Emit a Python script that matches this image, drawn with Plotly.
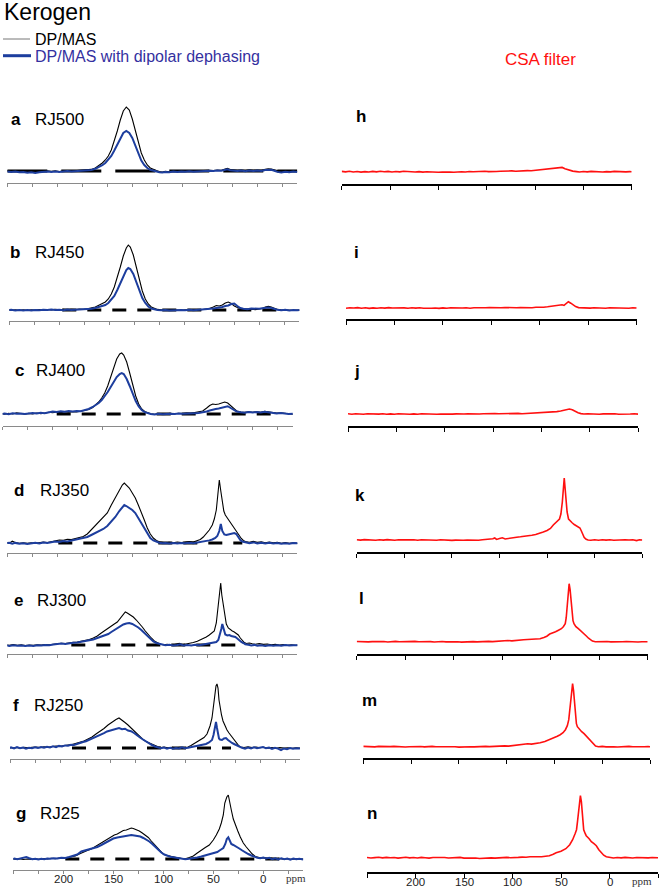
import plotly.graph_objects as go

# ---------------- data (ppm, intensity above baseline) ----------------
A_DP = [(250,0.4),(246,-0.2),(242,0.3),(238,-0.5),(234,-0.2),(230,-1.2),(226,-0.6),(222,-1.4),(218,-0.8),(214,-0.3),(210,0.2),(206,-0.4),(202,0.1),(198,-0.6),(194,0.0),(190,0.5),(186,-0.1),(182,0.3),(178,0.6),(174,0.4),(170,1.0),(166,1.6),(162,3.0),(158,5.5),(155,8),(152,11),(149,15),(146,21),(143,30),(140,40),(137,51),(134,60),(131,64),(128,61),(125,52),(122,40),(119,28),(116,18),(113,11),(110,6),(107,3),(104,1.5),(101,0.4),(98,-0.6),(95,-1.0),(92,-0.4),(88,-0.8),(84,0.0),(80,-0.5),(76,0.2),(72,-0.3),(68,0.3),(64,-0.2),(60,0.1),(56,0.5),(52,0.2),(48,0.8),(44,0.4),(40,1.0),(36,0.7),(33,1.5),(30,2.6),(27,1.4),(24,1.0),(20,0.6),(16,1.0),(12,0.5),(8,1.2),(4,0.6),(0,1.0),(-4,0.7),(-8,1.6),(-11,2.3),(-14,2.0),(-17,1.2),(-20,0.0),(-24,-0.6),(-28,0.2),(-32,-0.3),(-36,0.1),(-40,-0.2)]
A_DD = [(250,-0.6),(246,-1.0),(242,-0.5),(238,-1.3),(234,-0.9),(230,-1.8),(226,-1.2),(222,-2.0),(218,-1.3),(214,-0.8),(210,-0.4),(206,-0.9),(202,-0.5),(198,-1.1),(194,-0.5),(190,-0.1),(186,-0.6),(182,-0.2),(178,0.1),(174,0.0),(170,0.6),(166,1.1),(162,2.2),(158,4.0),(155,5.8),(152,8),(149,11),(146,15),(143,20.5),(140,26.5),(137,33),(134,38),(131,40),(128,38),(125,33),(122,25),(119,17),(116,10.5),(113,6),(110,3),(107,1.2),(104,0.2),(101,-0.6),(98,-1.2),(95,-1.6),(92,-1.0),(88,-1.3),(84,-0.6),(80,-1.0),(76,-0.4),(72,-0.8),(68,-0.2),(64,-0.7),(60,-0.4),(56,0.0),(52,-0.3),(48,0.3),(44,-0.1),(40,0.5),(36,0.2),(33,0.9),(30,1.6),(27,0.8),(24,0.4),(20,0.0),(16,0.4),(12,-0.2),(8,0.5),(4,-0.1),(0,0.4),(-4,0.1),(-8,0.9),(-11,1.4),(-14,1.2),(-17,0.3),(-20,-0.9),(-24,-1.6),(-28,-0.7),(-32,-1.2),(-36,-0.6),(-40,-0.9)]

B_DP = [(252,0.3),(248,-0.2),(244,0.2),(240,-0.4),(236,0.1),(232,-0.3),(228,0.3),(224,-0.1),(220,0.4),(216,0.0),(212,0.5),(208,0.1),(204,0.6),(200,0.2),(196,0.7),(192,0.3),(188,0.8),(184,0.4),(180,0.9),(176,0.6),(172,1.2),(168,1.8),(164,3.0),(160,5.0),(157,6.5),(154,8.0),(151,11),(148,16),(145,23),(142,32),(139,43),(136,54),(133,62),(131,65),(129,63),(126,55),(123,43),(120,30),(117,19),(114,11),(111,6),(108,3),(105,1.4),(102,0.6),(98,0.2),(94,-0.2),(90,0.3),(86,-0.1),(82,0.2),(78,-0.3),(74,0.1),(70,0.4),(66,0.0),(62,0.3),(58,0.2),(54,0.6),(50,1.5),(46,3.0),(43,4.5),(40,4.0),(37,5.0),(34,7.0),(31,8.0),(28,6.5),(25,4.0),(22,2.5),(19,1.5),(16,1.0),(12,0.6),(8,0.9),(4,0.4),(0,0.8),(-3,1.5),(-6,3.0),(-9,3.8),(-12,3.0),(-15,1.5),(-18,0.6),(-22,0.2),(-26,-0.2),(-30,0.1),(-34,-0.3),(-38,0.0),(-42,-0.2)]
B_DD = [(252,-0.2),(248,0.3),(244,-0.4),(240,0.0),(236,-0.6),(232,-0.1),(228,-0.5),(224,0.1),(220,-0.3),(216,0.3),(212,-0.1),(208,0.4),(204,0.0),(200,0.3),(196,-0.2),(192,0.5),(188,0.0),(184,0.2),(180,0.5),(176,0.2),(172,0.7),(168,1.2),(164,2.0),(160,3.0),(157,4.0),(154,5.0),(151,7),(148,10),(145,14),(142,20),(139,27),(136,34),(133,40),(131,42),(129,41),(126,36),(123,28),(120,19),(117,12),(114,7),(111,3.5),(108,1.5),(105,0.5),(102,0.0),(98,-0.3),(94,0.1),(90,-0.4),(86,0.0),(82,-0.3),(78,0.1),(74,-0.2),(70,0.2),(66,-0.2),(62,0.1),(58,0.0),(54,0.3),(50,0.8),(46,1.5),(43,2.0),(40,2.2),(37,3.0),(34,4.0),(31,4.5),(28,6.0),(25,6.5),(22,4.0),(19,2.0),(16,1.2),(12,0.8),(8,1.5),(4,1.0),(0,1.2),(-3,1.8),(-6,2.3),(-9,2.6),(-12,2.0),(-15,1.0),(-18,0.3),(-22,-0.3),(-26,0.2),(-30,-0.4),(-34,0.1),(-38,-0.3),(-42,0.0)]

C_DP = [(252,0.5),(248,-0.3),(244,0.8),(240,0.0),(236,1.2),(232,0.3),(228,-0.2),(224,0.6),(220,0.1),(216,1.0),(212,0.4),(208,0.9),(204,1.8),(200,1.2),(196,2.0),(192,1.4),(188,2.2),(184,1.8),(180,2.4),(176,2.0),(172,2.6),(168,3.2),(164,4.5),(160,6.5),(157,9),(154,12),(151,16),(148,21),(145,28),(142,37),(139,47),(136,55),(133,60),(131,61),(129,59),(126,52),(123,41),(120,29),(117,18),(114,10),(111,5),(108,2.5),(105,1.0),(102,0.3),(98,-0.2),(94,0.4),(90,-0.1),(86,0.3),(82,0.6),(78,0.2),(74,0.8),(70,0.4),(66,0.9),(62,0.6),(58,1.2),(54,1.8),(50,3.0),(46,6.0),(43,8.5),(40,10),(37,9.5),(34,10),(31,11),(28,12),(25,11),(22,8),(19,5),(16,3),(12,2.0),(8,1.6),(4,2.2),(0,1.6),(-4,2.3),(-8,1.8),(-12,2.6),(-16,1.8),(-20,1.3),(-24,0.9),(-28,1.2),(-32,0.6),(-36,0.2),(-40,-0.2),(-42,0.0)]
C_DD = [(252,-0.3),(248,0.4),(244,-0.2),(240,0.8),(236,0.2),(232,0.6),(228,-0.1),(224,0.3),(220,0.9),(216,0.5),(212,1.2),(208,0.8),(204,1.5),(200,2.6),(196,2.0),(192,2.8),(188,2.2),(184,2.9),(180,2.4),(176,3.0),(172,2.7),(168,3.5),(164,5.0),(160,7.0),(157,9),(154,11),(151,14),(148,17.5),(145,22),(142,27),(139,32),(136,37),(133,40),(131,41),(129,40),(126,35),(123,28),(120,20),(117,13),(114,7.5),(111,4),(108,1.8),(105,0.6),(102,0.0),(98,-0.4),(94,0.2),(90,-0.3),(86,0.1),(82,0.3),(78,-0.1),(74,0.5),(70,0.2),(66,0.6),(62,0.3),(58,0.8),(54,1.0),(50,1.6),(46,2.5),(43,3.5),(40,4.5),(37,5.0),(34,5.5),(31,6.5),(28,7.5),(25,7.8),(22,6.0),(19,4.0),(16,2.5),(12,1.8),(8,1.3),(4,1.9),(0,1.4),(-4,2.0),(-8,1.5),(-12,2.2),(-16,1.6),(-20,1.0),(-24,0.6),(-28,0.9),(-32,0.3),(-36,-0.1),(-40,0.2),(-42,-0.1)]

D_DP = [(252,0.5),(248,-0.2),(245,1.8),(242,0.4),(238,-0.3),(234,0.2),(230,-0.4),(226,0.3),(222,-0.2),(218,0.5),(214,1.0),(210,0.4),(206,1.5),(202,2.5),(198,3.0),(194,2.6),(190,3.8),(186,3.4),(182,4.5),(178,5.2),(174,6.5),(170,9),(166,13),(162,17),(158,21),(154,25),(150,30),(146,38),(142,45),(138,53),(135,58),(133,60),(131,58),(128,55),(125,50),(122,45),(119,38),(116,31),(113,23),(110,15),(107,9),(104,5),(101,2.5),(98,1.2),(95,0.6),(92,0.3),(88,0.8),(84,0.2),(80,1.0),(76,0.4),(72,0.9),(68,1.5),(64,1.0),(60,2.0),(57,3.5),(54,6),(51,9),(48,13),(45,18),(43,24),(41,33),(39.5,48),(38,63),(36.5,52),(35,40),(33.5,32),(32,28),(30,25),(28,22),(26,19),(24,16),(22,13),(20,10),(18,7),(16,4.5),(14,2.5),(12,1.5),(8,0.8),(4,1.6),(0,0.6),(-4,1.2),(-8,0.3),(-12,1.0),(-16,0.2),(-20,0.8),(-24,-0.3),(-28,0.4),(-32,-0.4),(-36,0.2),(-40,-0.3),(-42,0.0)]
D_DD = [(252,-0.4),(248,0.3),(245,-0.6),(242,0.1),(238,-0.8),(234,-0.2),(230,-0.9),(226,-0.3),(222,0.2),(218,-0.4),(214,0.5),(210,-0.1),(206,0.8),(202,1.4),(198,1.0),(194,2.0),(190,1.5),(186,2.4),(182,2.8),(178,3.5),(174,4.5),(170,6),(166,8),(162,10),(158,12),(154,14),(150,17),(146,21),(142,26),(138,32),(135,36),(133,38),(131,37),(128,35),(125,33),(122,30),(119,25),(116,20),(113,14),(110,9),(107,5),(104,2.5),(101,1.0),(98,0.2),(95,-0.3),(92,0.1),(88,-0.4),(84,0.0),(80,-0.5),(76,0.1),(72,-0.3),(68,0.3),(64,-0.2),(60,0.4),(56,1.0),(52,1.6),(48,2.6),(45,3.5),(42,5),(40,7),(38,12),(36.5,19),(35,12),(33,8.5),(31,8),(29,8.5),(27,9),(25,9.5),(23,10),(21,9),(19,6),(17,3),(15,1.5),(12,0.5),(8,-0.2),(4,0.6),(0,-0.4),(-4,0.3),(-8,-0.5),(-12,0.2),(-16,-0.6),(-20,0.0),(-24,-0.8),(-28,-0.2),(-32,-0.7),(-36,-0.1),(-40,-0.6),(-42,-0.3)]

E_DP = [(252,0.2),(248,-0.3),(244,0.4),(240,-0.2),(236,0.1),(232,-0.5),(228,0.0),(224,-0.3),(220,0.3),(216,0.0),(212,0.5),(208,0.2),(204,0.8),(200,1.2),(196,1.8),(192,1.4),(188,2.2),(184,2.6),(180,3.0),(176,3.6),(172,4.5),(168,5.5),(164,7),(160,9),(156,12),(152,15),(149,17),(146,19),(143,21),(140,23),(137,27),(134,31),(132,33),(130,32),(127,30),(124,28),(121,25),(118,22),(115,18),(112,14),(109,10),(106,7),(103,4),(100,2.0),(97,0.8),(94,0.2),(90,0.6),(86,-0.2),(82,0.4),(78,1.6),(75,0.3),(72,0.8),(68,1.5),(64,2.5),(60,3.8),(57,5),(54,6.5),(51,8),(48,10),(45,12),(43,14),(41,22),(39.5,35),(38,52),(36.6,62),(35.5,50),(34,40),(32.5,28),(31,21),(29,17),(27,15),(25,14),(23,13),(21,11.5),(19,10),(17,7),(15,4.5),(13,2.5),(11,1.5),(8,2.0),(5,1.2),(2,0.8),(-2,1.4),(-6,0.6),(-10,1.0),(-14,0.3),(-18,0.7),(-22,0.0),(-26,0.4),(-30,-0.2),(-34,0.2),(-38,-0.3),(-42,0.1)]
E_DD = [(252,-0.3),(248,-0.9),(244,-0.2),(240,-0.8),(236,-0.4),(232,-1.1),(228,-0.5),(224,-0.9),(220,-0.2),(216,-0.6),(212,0.1),(208,-0.3),(204,0.4),(200,0.9),(196,1.4),(192,1.0),(188,1.8),(184,2.3),(180,2.6),(176,3.2),(172,3.8),(168,4.5),(164,5.5),(160,7),(156,8.5),(152,10),(149,11),(146,13),(143,15),(140,17),(137,19),(134,20.5),(131,21.5),(128,22),(125,21),(122,19.5),(119,17.5),(116,15),(113,12),(110,9),(107,6),(104,3.5),(101,2.0),(98,1.0),(95,0.2),(92,-0.3),(88,0.3),(84,-0.5),(80,0.1),(77,0.8),(74,-0.4),(70,0.0),(66,-0.6),(62,0.2),(58,-0.3),(54,0.4),(50,0.8),(46,1.5),(43,2.2),(41,3),(39,5),(37.5,10),(36,16),(35,21),(33.5,15),(32,10.5),(30,9.5),(28,10),(26,9),(24,8.5),(22,8),(20,6.5),(18,4.5),(16,3),(14,2),(12,0.8),(9,0.2),(6,-0.5),(3,0.1),(0,-0.7),(-4,-0.2),(-8,-0.9),(-12,-0.3),(-16,-0.8),(-20,-0.2),(-24,-0.7),(-28,-0.1),(-32,-0.6),(-36,-0.2),(-40,-0.8),(-42,-0.4)]

F_DP = [(252,0.6),(248,0.0),(244,0.5),(240,-0.2),(236,0.8),(232,0.2),(228,0.6),(224,1.0),(220,0.4),(216,1.2),(212,0.8),(208,1.5),(204,2.0),(200,1.6),(196,2.5),(192,3.0),(188,3.4),(184,4.5),(180,5.5),(176,7),(172,9),(168,11),(164,14),(160,16.5),(156,19.5),(152,23),(148,26),(144,28.5),(141,30),(138,28),(135,25.5),(132,23),(129,20),(126,17),(123,13.5),(120,11),(117,8.5),(114,6.5),(111,5),(108,3.5),(105,2.2),(102,1.2),(99,0.5),(96,0.9),(92,0.3),(88,0.7),(84,0.2),(80,0.6),(76,0.1),(72,0.9),(69,2.5),(66,4.5),(62,6.5),(59,8.5),(56,10.5),(53,14),(50,22),(48,30),(47,38),(45.5,52),(44,62),(43,64),(42,60),(41,48),(40,41),(38.5,33),(37,27),(35,22),(33,18),(31,15),(29,12.5),(27,9),(25,7),(23,4),(21,2),(19,1.0),(16,0.5),(12,1.2),(8,0.4),(4,0.9),(0,0.2),(-4,0.8),(-8,-0.3),(-12,0.5),(-16,-0.2),(-20,0.4),(-24,-0.1),(-28,0.3),(-32,-0.4),(-36,0.2),(-40,-0.2),(-42,0.0)]
F_DD = [(252,-0.8),(249,0.6),(246,-0.5),(243,0.9),(240,-0.2),(237,0.4),(234,-0.7),(231,0.3),(228,-0.3),(225,0.8),(222,0.0),(219,1.0),(216,0.2),(213,1.3),(210,0.5),(207,1.6),(204,0.9),(201,2.1),(198,1.5),(195,2.6),(192,2.2),(189,3.3),(186,3.0),(183,4.2),(180,4.8),(177,6.0),(174,6.8),(171,8.0),(168,9.2),(165,10.5),(162,12),(159,13.2),(156,14.8),(153,16.5),(150,17.2),(147,18.5),(144,19.0),(141,20),(138,18.8),(135,19.3),(132,17.5),(129,16.8),(126,15),(123,12.5),(120,10.5),(117,8.5),(114,6.5),(111,4.5),(108,3.0),(105,1.5),(102,0.5),(99,-0.3),(96,0.4),(93,-0.6),(90,0.2),(87,-0.8),(84,0.0),(81,-0.5),(78,0.6),(75,-0.3),(72,0.2),(69,0.8),(66,1.5),(63,2.0),(60,2.8),(57,3.2),(54,4.0),(51,5.5),(48,8),(46.5,13),(45,20),(44,26),(43,20),(42,13),(41,9.5),(40,8.5),(38,8),(36,9.5),(34,10),(32,8),(30,6),(28,5),(26,4),(24,3),(22,2.2),(20,1.0),(18,0.2),(15,-0.6),(12,0.5),(9,-0.4),(6,0.8),(3,-0.2),(0,0.6),(-3,1.0),(-6,-0.3),(-9,0.4),(-12,-1.0),(-15,0.2),(-18,-0.6),(-21,-2.2),(-24,-0.5),(-27,-1.2),(-30,0.0),(-33,-0.8),(-36,-0.2),(-40,-0.6)]

G_DP = [(252,0.4),(248,-0.3),(244,0.2),(240,-0.5),(236,0.0),(232,-0.4),(228,0.3),(224,-0.2),(220,0.5),(216,0.1),(212,0.7),(208,0.3),(204,1.0),(200,0.8),(196,1.5),(192,2.2),(188,3.0),(184,5.0),(180,7.0),(176,8.5),(172,10),(168,12.5),(164,15.5),(160,18),(156,20),(152,22.5),(149,24),(146,25),(143,27),(140,28.5),(137,29),(134,30),(132,31),(130,30.5),(127,29.5),(124,28),(121,26),(118,24),(115,21.5),(112,18),(109,14.5),(106,11),(103,7.5),(100,5),(97,3.8),(94,3),(90,2.2),(86,1.2),(82,0.6),(78,0.2),(74,1.5),(70,3),(66,6),(62,9),(58,11.5),(54,14),(50,19),(47,24),(44,30),(42,36),(40,44),(38.5,56),(36.5,62),(35,64),(33.5,58),(32,49),(30,40),(28,34),(25.5,28),(23,22),(20,16),(17,12),(14,8),(11,5),(8,2.5),(5,1.5),(2,1.0),(-1,1.4),(-4,0.5),(-8,0.9),(-12,0.2),(-16,0.6),(-20,-0.2),(-24,0.3),(-28,-0.4),(-32,0.1),(-36,-0.3),(-40,0.0)]
G_DD = [(252,-0.5),(249,0.4),(246,-0.2),(243,0.6),(240,1.2),(237,2.0),(234,0.8),(231,-0.3),(228,0.2),(225,-0.5),(222,0.3),(219,-0.2),(216,0.5),(213,0.2),(210,0.8),(206,0.4),(202,1.2),(198,1.0),(194,2.0),(190,3.0),(186,4.5),(182,7.5),(178,8.5),(174,9.5),(170,10.5),(166,12),(162,14),(158,16),(154,18.5),(150,20.5),(146,21.5),(143,22),(140,22.5),(137,23),(134,23.5),(132,24),(129,23.5),(126,23),(123,22.5),(120,21),(117,19.5),(114,17.5),(111,15),(108,12),(105,9),(102,6.5),(99,4.5),(96,3.0),(93,2.2),(90,1.8),(86,1.0),(82,0.4),(78,-0.2),(74,0.3),(70,0.6),(66,1.5),(62,2.5),(58,3.5),(54,4.5),(50,5.5),(46,7),(43,9),(40,11),(38,15),(36.5,20),(35,21.7),(33.5,19),(32,15),(30,14),(27,12.5),(24,10.5),(21,8.5),(18,6.5),(15,5),(12,3.5),(9,2),(6,1.2),(3,0.8),(0,1.5),(-3,0.6),(-6,1.2),(-9,-0.3),(-12,0.6),(-15,-0.5),(-18,0.8),(-21,-0.2),(-24,0.4),(-27,-0.6),(-30,0.5),(-33,-0.3),(-36,0.2),(-40,-0.4)]

H_CSA = [(250,0.3),(246,-0.2),(242,0.4),(238,-0.3),(234,0.2),(230,-0.4),(226,0.1),(222,-0.3),(218,0.3),(214,-0.2),(210,0.4),(206,-0.1),(202,0.3),(198,-0.3),(194,0.2),(190,-0.2),(186,0.4),(182,0.0),(178,0.3),(174,-0.3),(170,0.1),(166,-0.4),(162,-0.1),(158,-0.5),(154,-0.2),(150,-0.6),(146,-0.3),(142,-0.7),(138,-0.4),(134,-0.6),(130,-0.2),(126,0.0),(122,-0.3),(118,0.2),(114,-0.1),(110,0.3),(106,0.0),(102,0.4),(98,0.1),(94,0.5),(90,0.2),(86,0.4),(82,0.7),(78,0.4),(74,0.8),(70,0.5),(66,0.9),(62,0.7),(58,1.1),(54,1.0),(50,1.4),(46,1.8),(42,2.2),(38,2.5),(34,3.0),(31,3.5),(28,3.2),(25,4.0),(22,4.3),(19,3.0),(15,1.6),(11,0.6),(7,0.1),(4,-0.3),(0,0.2),(-4,-0.2),(-8,0.3),(-12,-0.1),(-16,0.2),(-20,-0.3),(-24,0.1),(-28,-0.2),(-32,0.3),(-36,0.0),(-40,0.2),(-44,-0.2),(-48,0.1),(-50,0.0)]
I_CSA = [(250,-0.2),(246,0.3),(242,0.0),(238,0.4),(234,-0.3),(230,0.2),(226,-0.4),(222,0.1),(218,-0.2),(214,0.3),(210,-0.1),(206,0.4),(202,0.0),(198,0.2),(194,-0.3),(190,0.1),(186,-0.2),(182,0.3),(178,-0.1),(174,0.2),(170,-0.3),(166,0.1),(162,-0.2),(158,0.0),(154,-0.4),(150,0.1),(146,-0.3),(142,0.2),(138,-0.1),(134,0.3),(130,0.0),(126,0.2),(122,-0.2),(118,0.3),(114,0.1),(110,0.4),(106,0.2),(102,0.5),(98,0.2),(94,0.6),(90,0.3),(86,0.5),(82,0.2),(78,0.6),(74,0.3),(70,0.5),(66,0.2),(62,0.6),(58,0.3),(54,0.7),(50,0.5),(46,0.8),(42,1.2),(38,1.6),(34,2.0),(30,2.6),(27,3.2),(25,2.6),(22.5,4.5),(20.5,6.3),(18,4.8),(15.5,2.8),(13,1.4),(10,0.4),(6,0.0),(2,0.3),(-2,-0.1),(-6,0.2),(-10,-0.2),(-14,0.1),(-18,-0.3),(-22,0.2),(-26,0.0),(-30,0.3),(-34,-0.2),(-38,0.1),(-42,-0.3),(-46,0.2),(-50,0.0)]
J_CSA = [(250,0.2),(246,-0.2),(242,0.3),(238,0.0),(234,-0.3),(230,0.2),(226,0.0),(222,0.3),(218,-0.1),(214,0.2),(210,-0.3),(206,0.1),(202,-0.2),(198,0.3),(194,0.0),(190,0.2),(186,-0.2),(182,0.1),(178,-0.3),(174,0.2),(170,0.0),(166,-0.2),(162,0.1),(158,-0.3),(154,0.0),(150,-0.2),(146,0.2),(142,-0.1),(138,0.1),(134,-0.3),(130,0.0),(126,0.2),(122,-0.1),(118,0.3),(114,0.0),(110,0.2),(106,0.4),(102,0.1),(98,0.5),(94,0.2),(90,0.4),(86,0.1),(82,0.5),(78,0.3),(74,0.6),(70,0.3),(66,0.5),(62,0.7),(58,0.5),(54,0.9),(50,1.0),(46,1.3),(42,1.6),(38,2.0),(34,2.4),(30,3.0),(27,3.6),(24,4.4),(21,5.0),(18,4.2),(15,2.6),(12,1.2),(9,0.4),(6,0.0),(2,0.3),(-2,-0.1),(-6,0.2),(-10,-0.2),(-14,0.1),(-18,0.3),(-22,-0.1),(-26,0.2),(-30,-0.2),(-34,0.1),(-38,-0.3),(-42,0.0),(-46,0.2),(-50,-0.1)]
K_CSA = [(250,0.3),(246,-0.1),(242,0.4),(238,0.0),(234,0.3),(230,-0.2),(226,0.2),(222,-0.1),(218,0.4),(214,0.1),(210,-0.3),(206,0.2),(202,0.0),(198,0.5),(194,0.1),(190,0.3),(186,-0.2),(182,0.2),(178,0.0),(174,-0.3),(170,0.1),(166,-0.2),(162,0.2),(158,-0.1),(154,0.1),(150,-0.4),(146,-0.1),(142,-0.5),(138,-0.2),(134,0.0),(130,-0.3),(126,0.1),(122,-0.2),(118,0.2),(114,0.5),(110,0.3),(107,1.2),(105,2.0),(103,0.6),(100,1.4),(97,2.2),(94,1.0),(90,1.8),(86,2.4),(82,2.8),(78,3.2),(74,3.5),(70,4.2),(66,4.8),(62,5.5),(58,6.5),(54,8),(50,9.5),(46.5,11.5),(43.5,15),(40,18.5),(37,21),(35.5,26),(34,38),(32,62),(30.5,46),(29,28),(27.5,21),(26,19),(24,17.5),(21.5,15.5),(19,14),(17,13),(15.5,12),(14,9),(12.5,5.5),(11,2.5),(9,0.8),(7,0.0),(4,-0.3),(0,0.2),(-4,-0.2),(-8,0.3),(-12,-0.1),(-16,0.2),(-20,-0.3),(-24,0.1),(-28,-0.2),(-32,0.3),(-36,0.0),(-40,0.2),(-44,-0.6),(-47,0.2),(-50,0.0)]
L_CSA = [(250,0.2),(246,-0.1),(242,0.3),(238,-0.2),(234,0.1),(230,0.3),(226,-0.1),(222,0.2),(218,-0.3),(214,0.1),(210,0.3),(206,0.0),(202,0.2),(198,-0.2),(194,0.1),(190,0.3),(186,0.0),(182,0.2),(178,-0.2),(174,0.1),(170,-0.3),(166,0.0),(162,0.2),(158,-0.2),(154,0.1),(150,-0.3),(146,0.0),(142,-0.4),(138,-0.1),(134,-0.3),(130,0.1),(126,-0.2),(122,0.2),(118,0.0),(114,0.3),(110,0.1),(106,0.4),(102,0.9),(98,0.5),(94,1.2),(90,0.8),(86,1.4),(82,1.6),(78,2.0),(74,2.2),(71,2.3),(67,2.2),(64,2.6),(61,3.0),(57,4.2),(54,5.5),(51,7.7),(48,8.5),(45,10),(42,11.5),(39,13),(37,15),(35,18),(34,24),(33,38),(32,52),(31,58),(30,52),(29,40),(28,28),(27,21),(26,18),(24,15),(21.5,13),(19,11),(17,9.5),(15,8),(13,5.5),(11,3.5),(9.5,2.3),(7,0.6),(4,0.0),(0,0.3),(-4,-0.1),(-8,0.2),(-12,-0.2),(-16,0.1),(-20,-0.3),(-24,0.0),(-28,0.2),(-32,-0.2),(-36,0.1),(-40,-0.3),(-44,0.0),(-48,0.2),(-50,0.0)]
M_CSA = [(250,0.3),(246,0.0),(242,0.2),(238,-0.2),(234,0.3),(230,0.0),(226,-0.3),(222,0.1),(218,0.3),(214,-0.1),(210,0.2),(206,-0.3),(202,0.0),(198,0.3),(194,-0.1),(190,0.2),(186,-0.2),(182,0.1),(178,0.3),(174,-0.1),(170,0.0),(166,-0.3),(162,0.1),(158,-0.2),(154,0.0),(150,-0.4),(146,-0.1),(142,-0.3),(138,0.0),(134,-0.2),(130,0.1),(126,-0.1),(122,0.3),(118,0.1),(114,0.4),(110,0.2),(106,0.5),(102,0.8),(98,0.6),(94,1.0),(90,1.4),(86,2.0),(83,2.7),(78,3.0),(74,2.6),(70,2.9),(65,4.0),(60,5.2),(55,7),(50,9),(47,10.5),(44,12),(41,14),(38.5,17),(36.5,21),(35,27),(34,36),(33,48),(32,59),(31,63),(30,56),(29,44),(28,30),(27,23),(26,20),(24,17.5),(21.5,15),(19,13),(17,11),(14.5,8),(12,5),(9.3,2.3),(7,0.6),(4,0.0),(0,0.3),(-4,-0.2),(-8,0.2),(-12,0.0),(-16,-0.3),(-20,0.1),(-24,-0.1),(-28,0.3),(-32,0.0),(-36,-0.2),(-40,0.2),(-44,-0.1),(-48,0.1),(-50,0.0)]
N_CSA = [(250,0.2),(246,-0.3),(242,0.1),(238,0.4),(234,-0.2),(230,0.3),(226,-0.1),(222,0.2),(218,-0.4),(214,0.1),(210,0.4),(206,-0.2),(202,0.2),(198,-0.3),(194,0.3),(190,0.0),(186,-0.4),(182,0.2),(178,0.4),(174,-0.1),(170,0.2),(166,-0.3),(162,0.1),(158,-0.2),(154,0.3),(150,-0.4),(146,-0.2),(142,-0.6),(138,-0.3),(134,-0.8),(130,-0.4),(126,-0.7),(122,-0.2),(118,-0.4),(114,0.0),(110,-0.2),(106,0.3),(102,0.0),(98,0.5),(94,0.3),(90,0.6),(86,0.4),(82,1.0),(78,0.8),(74,1.2),(70,1.0),(66,1.5),(62,2.0),(58,3.5),(55,5),(50,6.5),(45,9),(41,13),(38,18),(35.5,24),(34,28),(33,36),(32,46),(31,57),(30,62),(29,56),(28.3,45),(27.4,35),(26.6,28),(25,24),(24,22),(21,19),(18.7,16),(16,14),(13.6,12),(11,8),(8.4,5),(6,2.5),(3.3,1),(0,0.2),(-4,-0.3),(-8,0.2),(-12,-0.2),(-16,0.3),(-20,0.0),(-24,-0.3),(-28,0.2),(-32,-0.1),(-36,0.3),(-40,-0.2),(-44,0.2),(-48,-0.1),(-50,0.0)]

SAMPLES = ["RJ500", "RJ450", "RJ400", "RJ350", "RJ300", "RJ250", "RJ25"]
LEFT_LETTERS = ["a", "b", "c", "d", "e", "f", "g"]
RIGHT_LETTERS = ["h", "i", "j", "k", "l", "m", "n"]
DP_SERIES = [A_DP, B_DP, C_DP, D_DP, E_DP, F_DP, G_DP]
DD_SERIES = [A_DD, B_DD, C_DD, D_DD, E_DD, F_DD, G_DD]
CSA_SERIES = [H_CSA, I_CSA, J_CSA, K_CSA, L_CSA, M_CSA, N_CSA]
# extent (ppm) of the dashed zero line in each left panel
DASH_SPANS = [(250, -40), (197, -24), (196, -24), (199, 15), (186, 12), (188, 29), (198, -23)]
TICK_LABELS = ["200", "150", "100", "50", "0"]
TICK_LABEL_PPM = [200, 150, 100, 50, 0]

# ---------------- layout geometry (pixels) ----------------
W, H = 661, 888
def fx(x): return x / W
def fy(y): return 1 - y / H

# x0, x1, axis_y, baseline_y, top_y
LEFT_GEOM = [(7.3, 297.3, 183, 171, 95), (9.3, 299.3, 320.7, 310, 235), (2.7, 292.7, 425.7, 414, 340),
             (7.3, 297.3, 553, 543, 470), (7.3, 297.3, 654, 645, 572), (10, 300, 759, 748, 674),
             (13.3, 303.3, 870, 859, 785)]
RIGHT_GEOM = [(341.7, 631.7, 184, 171.7, 100), (346, 636.7, 319.3, 308, 240), (348, 638, 425.5, 414, 350),
              (356.7, 642.3, 551.7, 540, 470), (356.7, 647.7, 654.3, 641.7, 574), (363.3, 650, 758.3, 746.7, 675),
              (367, 658, 871.7, 857.7, 788)]
LEFT_LABEL_POS = [(15.5, 33, 120), (15.3, 32.7, 252), (19, 34.3, 370), (18.7, 38, 491), (18, 35, 600), (15.5, 31.7, 705), (20.7, 38.3, 813)]
RIGHT_LABEL_POS = [(360.5, 116), (357, 252), (357.5, 372), (360, 495), (361.7, 598), (369.3, 700), (371.7, 813)]

FONT = "Liberation Sans, Arial, sans-serif"
BLUE = "#1d3e9e"
RED = "#ff1010"

fig = go.Figure()
layout = dict(width=W, height=H, margin=dict(l=0, r=0, t=0, b=0), autosize=False,
              paper_bgcolor="white", plot_bgcolor="rgba(0,0,0,0)", showlegend=False)
annotations = []
shapes = []

def add_axes(idx, geom, left):
    x0, x1, ay, by, ty = geom
    sfx = "" if idx == 1 else str(idx)
    if left:
        tv = [250, 225, 200, 175, 150, 125, 100, 75, 50, 25, 0, -25]
        rng = [250, -40]
        lc, lw, tl = "#8a8a8a", 1, 3
    else:
        tv = [250, 200, 150, 100, 50, 0, -50]
        rng = [250, -50]
        lc, lw, tl = "#000000", 2, 4
    layout["xaxis" + sfx] = dict(domain=[fx(x0), fx(x1)], range=rng, anchor="y" + sfx,
                                 showgrid=False, zeroline=False, showline=True, linecolor=lc, linewidth=lw,
                                 ticks="outside", ticklen=tl, tickwidth=1, tickcolor=lc,
                                 tickmode="array", tickvals=tv, showticklabels=False, fixedrange=True)
    layout["yaxis" + sfx] = dict(domain=[fy(ay), fy(ty)], range=[-(ay - by), by - ty], anchor="x" + sfx,
                                 visible=False, showgrid=False, zeroline=False, fixedrange=True)
    return "x" + sfx, "y" + sfx

def unzip(series):
    return [p for p, _ in series], [v for _, v in series]

def tick_labels(xref, label_y, ppm_x):
    for v, t in zip(TICK_LABEL_PPM, TICK_LABELS):
        annotations.append(dict(text=t, x=v, xref=xref, y=fy(label_y), yref="paper", xanchor="center",
                                yanchor="middle", showarrow=False,
                                font=dict(family=FONT, size=11.5, color="#222222")))
    annotations.append(dict(text="ppm", x=fx(ppm_x), y=fy(label_y - 1), xref="paper", yref="paper",
                            xanchor="center", yanchor="middle", showarrow=False,
                            font=dict(family="Liberation Serif, Times New Roman, serif", size=11, color="#333333")))

for i in range(7):
    xa, ya = add_axes(i + 1, LEFT_GEOM[i], True)
    d0, d1 = DASH_SPANS[i]
    fig.add_trace(go.Scatter(x=[d0, d1], y=[0, 0], mode="lines", xaxis=xa, yaxis=ya,
                             line=dict(color="black", width=3, dash="40px,14px" if i == 0 else "14px,11px"),
                             hoverinfo="skip"))
    px_, iy = unzip(DP_SERIES[i])
    fig.add_trace(go.Scatter(x=px_, y=iy, mode="lines", xaxis=xa, yaxis=ya,
                             line=dict(color="black", width=1.1), hoverinfo="skip"))
    px_, iy = unzip(DD_SERIES[i])
    fig.add_trace(go.Scatter(x=px_, y=iy, mode="lines", xaxis=xa, yaxis=ya,
                             line=dict(color=BLUE, width=2), hoverinfo="skip"))
    lx, sx, ly = LEFT_LABEL_POS[i]
    annotations.append(dict(text="<b>%s</b>" % LEFT_LETTERS[i], x=fx(lx), y=fy(ly), xref="paper", yref="paper",
                            xanchor="center", yanchor="middle", showarrow=False,
                            font=dict(family=FONT, size=17, color="black")))
    annotations.append(dict(text=SAMPLES[i], x=fx(sx), y=fy(ly), xref="paper", yref="paper",
                            xanchor="left", yanchor="middle", showarrow=False,
                            font=dict(family=FONT, size=17, color="black")))
    if i == 6:
        tick_labels(xa, 878.5, 296)

for i in range(7):
    xa, ya = add_axes(i + 8, RIGHT_GEOM[i], False)
    px_, iy = unzip(CSA_SERIES[i])
    fig.add_trace(go.Scatter(x=px_, y=iy, mode="lines", xaxis=xa, yaxis=ya,
                             line=dict(color=RED, width=1.6), hoverinfo="skip"))
    lx, ly = RIGHT_LABEL_POS[i]
    annotations.append(dict(text="<b>%s</b>" % RIGHT_LETTERS[i], x=fx(lx), y=fy(ly), xref="paper", yref="paper",
                            xanchor="center", yanchor="middle", showarrow=False,
                            font=dict(family=FONT, size=17, color="black")))
    if i == 6:
        tick_labels(xa, 882, 641.7)

# title and legend
annotations.append(dict(text="Kerogen", x=fx(2), y=fy(12), xref="paper", yref="paper", xanchor="left",
                        yanchor="middle", showarrow=False, font=dict(family=FONT, size=23, color="black")))
annotations.append(dict(text="DP/MAS", x=fx(33), y=fy(40), xref="paper", yref="paper", xanchor="left",
                        yanchor="middle", showarrow=False, font=dict(family=FONT, size=16, color="black")))
annotations.append(dict(text="DP/MAS with dipolar dephasing", x=fx(33), y=fy(56.5), xref="paper", yref="paper",
                        xanchor="left", yanchor="middle", showarrow=False,
                        font=dict(family=FONT, size=16, color="#3430a0")))
annotations.append(dict(text="CSA filter", x=fx(540), y=fy(60), xref="paper", yref="paper", xanchor="center",
                        yanchor="middle", showarrow=False, font=dict(family=FONT, size=17, color=RED)))
shapes.append(dict(type="line", xref="paper", yref="paper", x0=fx(3), x1=fx(30), y0=fy(39), y1=fy(39),
                   line=dict(color="#777777", width=1)))
shapes.append(dict(type="line", xref="paper", yref="paper", x0=fx(3), x1=fx(31), y0=fy(55.7), y1=fy(55.7),
                   line=dict(color=BLUE, width=3)))

layout["annotations"] = annotations
layout["shapes"] = shapes
fig.update_layout(**layout)
fig.write_html("out.html", config={"displayModeBar": False, "staticPlot": True},
               post_script="document.body.style.margin='0';document.body.style.overflow='hidden';")
